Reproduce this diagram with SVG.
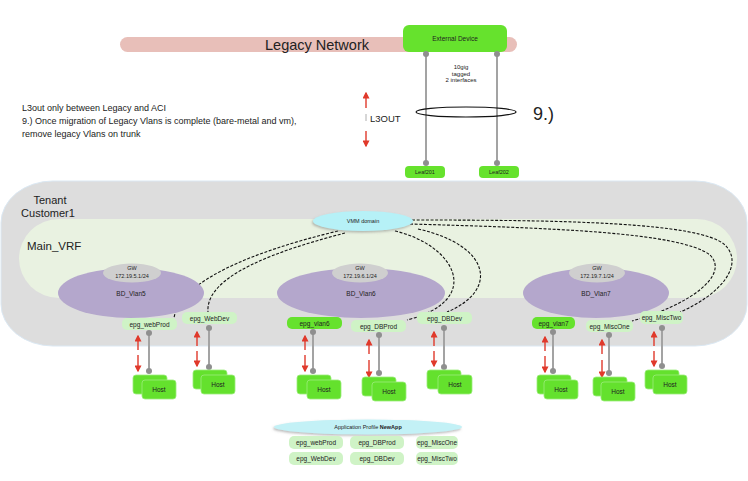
<svg xmlns="http://www.w3.org/2000/svg" width="748" height="481" viewBox="0 0 748 481">
<style>
text{font-family:"Liberation Sans",Arial,sans-serif;fill:#222;text-anchor:middle}
.s{font-size:6.5px}
.xs{font-size:5.5px}
.epg{fill:#cff3c6}
.epgb{fill:#66e22d}
.host{fill:#64e12d;stroke:#9cec7c;stroke-width:0.8}
.bd{fill:#b4a7cc}
.gw{fill:#cfcfcf}
.gl{stroke:#a3a3a3;stroke-width:2}
.dot{fill:#8f8f8f}
.dash{fill:none;stroke:#111;stroke-width:1.1;stroke-dasharray:3 1.6}
.ra{stroke:#e0392b;stroke-width:1.4;marker-end:url(#rh)}
</style>
<defs>
<marker id="rh" viewBox="0 0 10 10" refX="8" refY="5" markerWidth="5" markerHeight="5" orient="auto">
<path d="M0,0 L10,5 L0,10 z" fill="#e0392b"/>
</marker>
<filter id="sh" x="-20%" y="-50%" width="140%" height="220%">
<feDropShadow dx="-1" dy="1.5" stdDeviation="1" flood-color="#777" flood-opacity="0.5"/>
</filter>
</defs>

<g id="legacy">
<rect x="120" y="37" width="397" height="15" rx="7.5" fill="#e8bfb9"/>
<text x="317" y="50" style="font-size:14.5px">Legacy Network</text>
</g>

<g id="external-device">
<rect x="403" y="25" width="104" height="27" rx="6" fill="#66e22d"/>
<text x="455" y="41" class="s">External Device</text>
</g>

<g id="tenant">
<rect x="1" y="181" width="746" height="165" rx="52" ry="42" fill="#dddddd" stroke="#dbe8f3" stroke-width="1"/>
<text x="50" y="204" style="font-size:11px">Tenant</text>
<text x="48" y="217" style="font-size:11px">Customer1</text>
</g>

<g id="main-vrf">
<rect x="19" y="219" width="718" height="79" rx="40" fill="#e9f2e1"/>
<text x="27" y="250" style="font-size:11.5px;text-anchor:start">Main_VRF</text>
</g>

<g id="connectors">
<line x1="426" y1="54" x2="426" y2="163" class="gl" stroke-width="1.5"/>
<line x1="497" y1="54" x2="497" y2="163" class="gl" stroke-width="1.5"/>
<circle cx="426" cy="54" r="3" class="dot"/>
<circle cx="497" cy="54" r="3" class="dot"/>
<circle cx="426" cy="163" r="3" class="dot"/>
<circle cx="497" cy="163" r="3" class="dot"/>
<ellipse cx="466" cy="112" rx="50" ry="5" fill="none" stroke="#111" stroke-width="1.2"/>
<path class="dash" d="M338,231 C250,252 180,282 174,318"/>
<path class="dash" d="M345,233 C280,250 205,275 208,312"/>
<path class="dash" d="M395,231 C455,245 485,300 407,320"/>
<path class="dash" d="M418,229 C490,245 500,290 447,312"/>
<path class="dash" d="M412,220 C560,220 700,222 725,245 C745,265 720,295 680,312"/>
<path class="dash" d="M410,224 C550,228 680,232 710,255 C730,275 690,305 632,321"/>
</g>

<g id="l3out">
<line x1="366" y1="108" x2="366" y2="93" class="ra"/>
<line x1="366" y1="114" x2="366" y2="121" stroke="#999" stroke-width="0.8"/>
<line x1="366" y1="131" x2="366" y2="146" class="ra"/>
<text x="370" y="122" style="font-size:9.5px;text-anchor:start">L3OUT</text>
<text x="533" y="120" style="font-size:18px;text-anchor:start">9.)</text>
<text x="461" y="69" style="font-size:6px">10gig</text>
<text x="461" y="75.5" style="font-size:6px">tagged</text>
<text x="461" y="82" style="font-size:6px">2 interfaces</text>
</g>

<g id="note">
<text x="22" y="111" style="font-size:9px;text-anchor:start">L3out only between Legacy and ACI</text>
<text x="22" y="124" style="font-size:9px;text-anchor:start">9.) Once migration of Legacy Vlans is complete (bare-metal and vm),</text>
<text x="22" y="137" style="font-size:9px;text-anchor:start">remove legacy Vlans on trunk</text>
</g>

<g id="leaf201">
<rect x="405" y="166" width="40" height="12" rx="4" class="epgb"/>
<text x="425" y="174.3" class="xs">Leaf201</text>
</g>
<g id="leaf202">
<rect x="479" y="166" width="40" height="12" rx="4" class="epgb"/>
<text x="499" y="174.3" class="xs">Leaf202</text>
</g>

<g id="bd-vlan5">
<ellipse cx="131" cy="293" rx="73" ry="25" class="bd"/>
<ellipse cx="132" cy="273" rx="29" ry="9.5" class="gw"/>
<text x="132" y="270" class="xs">GW</text>
<text x="132" y="278" class="xs">172.19.5.1/24</text>
<text x="131" y="296" class="s">BD_Vlan5</text>
</g>
<g id="bd-vlan6">
<ellipse cx="361" cy="293" rx="84" ry="25" class="bd"/>
<ellipse cx="360" cy="273" rx="28" ry="9.5" class="gw"/>
<text x="360" y="270" class="xs">GW</text>
<text x="360" y="278" class="xs">172.19.6.1/24</text>
<text x="361" y="296" class="s">BD_Vlan6</text>
</g>
<g id="bd-vlan7">
<ellipse cx="596" cy="293" rx="73" ry="25" class="bd"/>
<ellipse cx="597" cy="273" rx="28" ry="9.5" class="gw"/>
<text x="597" y="270" class="xs">GW</text>
<text x="597" y="278" class="xs">172.19.7.1/24</text>
<text x="596" y="296" class="s">BD_Vlan7</text>
</g>

<g id="vmm-domain">
<ellipse cx="363" cy="221" rx="50" ry="10" fill="#b6f1f7" filter="url(#sh)"/>
<text x="363" y="223" class="xs">VMM domain</text>
</g>

<g id="epg-webprod">
<rect x="122" y="318" width="55" height="12" rx="5" class="epg"/>
<text x="149.5" y="326.5" class="s">epg_webProd</text>
<line x1="149" y1="333" x2="149" y2="371" class="gl"/>
<circle cx="149" cy="333" r="3" class="dot"/><circle cx="149" cy="371" r="3" class="dot"/>
<line x1="138" y1="350" x2="138" y2="336" class="ra"/><line x1="138" y1="355" x2="138" y2="371" class="ra"/>
<rect x="133" y="375" width="34" height="19" rx="3" class="host"/>
<rect x="142" y="380" width="34" height="19" rx="3" class="host"/>
<text x="159" y="392" class="s">Host</text>
</g>
<g id="epg-webdev">
<rect x="182" y="312" width="55" height="12" rx="5" class="epg"/>
<text x="209.5" y="320.5" class="s">epg_WebDev</text>
<line x1="209" y1="328" x2="209" y2="367" class="gl"/>
<circle cx="209" cy="328" r="3" class="dot"/><circle cx="209" cy="367" r="3" class="dot"/>
<line x1="197" y1="346" x2="197" y2="332" class="ra"/><line x1="197" y1="351" x2="197" y2="366" class="ra"/>
<rect x="193" y="370" width="34" height="19" rx="3" class="host"/>
<rect x="201" y="375" width="34" height="19" rx="3" class="host"/>
<text x="218" y="387" class="s">Host</text>
</g>
<g id="epg-vlan6">
<rect x="287" y="317" width="55" height="12" rx="5" class="epgb"/>
<text x="314.5" y="325.5" class="s">epg_vlan6</text>
<line x1="313" y1="332" x2="313" y2="371" class="gl"/>
<circle cx="313" cy="332" r="3" class="dot"/><circle cx="313" cy="371" r="3" class="dot"/>
<line x1="305" y1="350" x2="305" y2="336" class="ra"/><line x1="305" y1="355" x2="305" y2="371" class="ra"/>
<rect x="297" y="375" width="34" height="19" rx="3" class="host"/>
<rect x="307" y="380" width="34" height="19" rx="3" class="host"/>
<text x="324" y="392" class="s">Host</text>
</g>
<g id="epg-dbprod">
<rect x="351" y="320" width="55" height="12" rx="5" class="epg"/>
<text x="378.5" y="328.5" class="s">epg_DBProd</text>
<line x1="379" y1="335" x2="379" y2="373" class="gl"/>
<circle cx="379" cy="335" r="3" class="dot"/><circle cx="379" cy="373" r="3" class="dot"/>
<line x1="369" y1="354" x2="369" y2="340" class="ra"/><line x1="369" y1="360" x2="369" y2="377" class="ra"/>
<rect x="362" y="377" width="34" height="19" rx="3" class="host"/>
<rect x="372" y="382" width="34" height="19" rx="3" class="host"/>
<text x="389" y="394" class="s">Host</text>
</g>
<g id="epg-dbdev">
<rect x="417" y="312" width="55" height="12" rx="5" class="epg"/>
<text x="444.5" y="320.5" class="s">epg_DBDev</text>
<line x1="444" y1="328" x2="444" y2="367" class="gl"/>
<circle cx="444" cy="328" r="3" class="dot"/><circle cx="444" cy="367" r="3" class="dot"/>
<line x1="434" y1="346" x2="434" y2="332" class="ra"/><line x1="434" y1="351" x2="434" y2="366" class="ra"/>
<rect x="427" y="370" width="34" height="19" rx="3" class="host"/>
<rect x="438" y="375" width="34" height="19" rx="3" class="host"/>
<text x="455" y="387" class="s">Host</text>
</g>
<g id="epg-vlan7">
<rect x="532" y="317" width="43" height="12" rx="5" class="epgb"/>
<text x="553.5" y="325.5" class="s">epg_vlan7</text>
<line x1="553" y1="332" x2="553" y2="371" class="gl"/>
<circle cx="553" cy="332" r="3" class="dot"/><circle cx="553" cy="371" r="3" class="dot"/>
<line x1="545" y1="351" x2="545" y2="337" class="ra"/><line x1="545" y1="356" x2="545" y2="372" class="ra"/>
<rect x="537" y="375" width="34" height="19" rx="3" class="host"/>
<rect x="544" y="380" width="34" height="19" rx="3" class="host"/>
<text x="561" y="392" class="s">Host</text>
</g>
<g id="epg-miscone">
<rect x="586" y="320" width="47" height="12" rx="5" class="epg"/>
<text x="609.5" y="328.5" class="s">epg_MiscOne</text>
<line x1="609" y1="335" x2="609" y2="373" class="gl"/>
<circle cx="609" cy="335" r="3" class="dot"/><circle cx="609" cy="373" r="3" class="dot"/>
<line x1="602" y1="354" x2="602" y2="340" class="ra"/><line x1="602" y1="360" x2="602" y2="377" class="ra"/>
<rect x="593" y="377" width="34" height="19" rx="3" class="host"/>
<rect x="601" y="382" width="34" height="19" rx="3" class="host"/>
<text x="618" y="394" class="s">Host</text>
</g>
<g id="epg-misctwo">
<rect x="640" y="311" width="43" height="13" rx="5" class="epg"/>
<text x="661.5" y="320" class="s">epg_MiscTwo</text>
<line x1="662" y1="328" x2="662" y2="366" class="gl"/>
<circle cx="662" cy="328" r="3" class="dot"/><circle cx="662" cy="366" r="3" class="dot"/>
<line x1="654" y1="346" x2="654" y2="332" class="ra"/><line x1="654" y1="351" x2="654" y2="366" class="ra"/>
<rect x="645" y="370" width="34" height="19" rx="3" class="host"/>
<rect x="653" y="375" width="34" height="19" rx="3" class="host"/>
<text x="670" y="387" class="s">Host</text>
</g>

<g id="application-profile">
<ellipse cx="368" cy="427" rx="94" ry="7.5" fill="#c3f1f6" filter="url(#sh)"/>
<text x="368" y="429" class="xs">Application Profile <tspan font-weight="bold">NewApp</tspan></text>
<rect x="289" y="436" width="54" height="13" rx="5" class="epg"/>
<text x="316" y="445" class="s">epg_webProd</text>
<rect x="350" y="436" width="54" height="13" rx="5" class="epg"/>
<text x="377" y="445" class="s">epg_DBProd</text>
<rect x="416" y="436" width="42" height="13" rx="5" class="epg"/>
<text x="437" y="445" class="s">epg_MiscOne</text>
<rect x="289" y="452" width="54" height="13" rx="5" class="epg"/>
<text x="316" y="461" class="s">epg_WebDev</text>
<rect x="350" y="452" width="54" height="13" rx="5" class="epg"/>
<text x="377" y="461" class="s">epg_DBDev</text>
<rect x="416" y="452" width="42" height="13" rx="5" class="epg"/>
<text x="437" y="461" class="s">epg_MiscTwo</text>
</g>
</svg>
